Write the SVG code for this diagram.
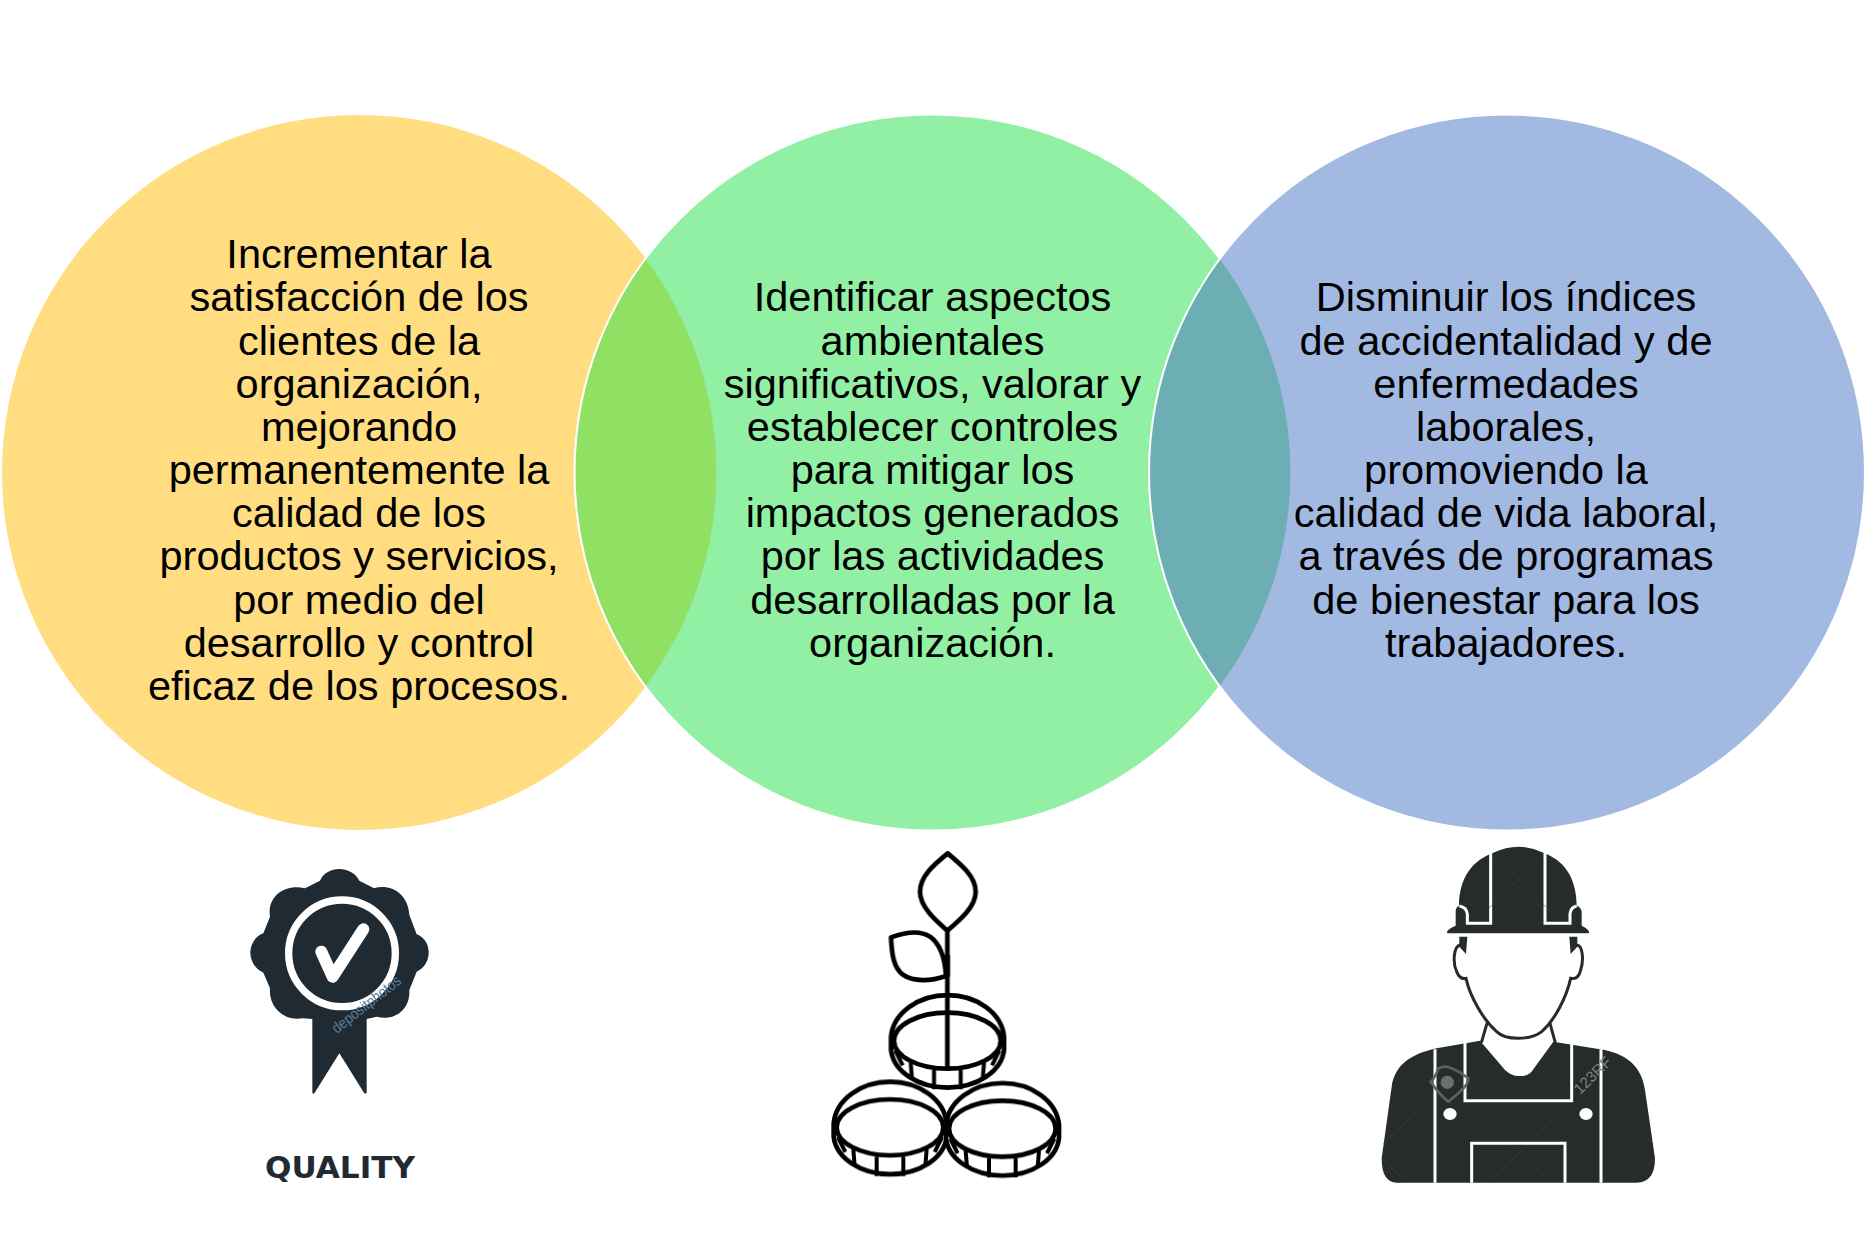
<svg xmlns="http://www.w3.org/2000/svg" width="1866" height="1255" viewBox="0 0 1866 1255">
<defs>
<style>
.t{font-family:"Liberation Sans",Arial,sans-serif;font-size:41.5px;fill:#000;text-anchor:middle}
.c{stroke:#fff;stroke-width:2}
.ln{fill:none;stroke:#000;stroke-width:14;stroke-linejoin:round}
.tk{fill:none;stroke:#000;stroke-width:12}
.wl{fill:none;stroke:#fff;stroke-width:9}
.hl{fill:none;stroke:#262b2c;stroke-width:9;stroke-linecap:round}
.x{fill:none;stroke:#3f4646;stroke-width:1.5}
</style>
<filter id="soft" x="-5%" y="-5%" width="110%" height="110%"><feGaussianBlur stdDeviation="1.7"/></filter>
<g id="coin">
<path d="M243 590 A170 135 0 0 1 582 590 V630 A170 122 0 0 1 243 630 Z" fill="#fff" stroke="#000" stroke-width="14" stroke-linejoin="round"/>
<ellipse cx="412" cy="602" rx="160" ry="84" class="ln"/>
<path class="tk" d="M256 632 L278 676 M302 668 L306 718 M372 690 V748 M452 690 V748 M522 668 L518 718 M568 632 L546 676"/>
</g>
</defs>
<rect width="1866" height="1255" fill="#fff"/>
<g id="circle-quality">
<circle cx="359.500" cy="472.500" r="357.500" fill="#ffdd80"/>
</g>
<g id="circle-environment">
<circle cx="932.500" cy="472.500" r="358" fill="#92f0a4"/>
<path d="M645.750 259 A358 358 0 0 1 645.750 686 A358 358 0 0 1 645.750 259 Z" fill="#90e064"/>
<circle class="c" cx="932.500" cy="472.500" r="358" fill="none"/>
</g>
<g id="circle-safety">
<circle cx="1507" cy="472.500" r="358" fill="#a2b9e2"/>
<path d="M1219.750 259 A358 358 0 0 1 1219.750 686 A358 358 0 0 1 1219.750 259 Z" fill="#6caeb4"/>
<circle class="c" cx="1507" cy="472.500" r="358" fill="none"/>
</g>
<g id="text-quality">
<text class="t" x="359" y="268">Incrementar la</text>
<text class="t" x="359" y="311">satisfacción de los</text>
<text class="t" x="359" y="354.500">clientes de la</text>
<text class="t" x="359" y="397.500">organización,</text>
<text class="t" x="359" y="441">mejorando</text>
<text class="t" x="359" y="484">permanentemente la</text>
<text class="t" x="359" y="527">calidad de los</text>
<text class="t" x="359" y="570">productos y servicios,</text>
<text class="t" x="359" y="613.500">por medio del</text>
<text class="t" x="359" y="656.500">desarrollo y control</text>
<text class="t" x="359" y="700">eficaz de los procesos.</text>
</g>
<g id="text-environment">
<text class="t" x="932.500" y="311">Identificar aspectos</text>
<text class="t" x="932.500" y="354.500">ambientales</text>
<text class="t" x="932.500" y="397.500">significativos, valorar y</text>
<text class="t" x="932.500" y="441">establecer controles</text>
<text class="t" x="932.500" y="484">para mitigar los</text>
<text class="t" x="932.500" y="527">impactos generados</text>
<text class="t" x="932.500" y="570">por las actividades</text>
<text class="t" x="932.500" y="613.500">desarrolladas por la</text>
<text class="t" x="932.500" y="656.500">organización.</text>
</g>
<g id="text-safety">
<text class="t" x="1506" y="311">Disminuir los índices</text>
<text class="t" x="1506" y="354.500">de accidentalidad y de</text>
<text class="t" x="1506" y="397.500">enfermedades</text>
<text class="t" x="1506" y="441">laborales,</text>
<text class="t" x="1506" y="484">promoviendo la</text>
<text class="t" x="1506" y="527">calidad de vida laboral,</text>
<text class="t" x="1506" y="570">a través de programas</text>
<text class="t" x="1506" y="613.500">de bienestar para los</text>
<text class="t" x="1506" y="656.500">trabajadores.</text>
</g>
<g id="icon-quality" transform="translate(220 840) scale(.33333)">
<path fill="#1f2a33" d="M300 122 C320 75 395 75 418 122 L462 145 C510 130 565 160 568 225 L590 283 C638 300 638 375 590 395 L568 450 C572 510 520 545 470 530 L440 537 V757 Q438 765 432 758 L358 640 L284 758 Q278 765 277 757 V537 L248 535 C190 545 145 500 150 445 L130 398 C78 375 78 300 130 280 L150 230 C140 165 200 130 255 145 Z"/>
<circle cx="366" cy="340" r="160" fill="none" stroke="#fff" stroke-width="22"/>
<path d="M304 335 L338 410 L430 268" fill="none" stroke="#fff" stroke-width="36" stroke-linecap="round" stroke-linejoin="round"/>
<text transform="translate(350 582) rotate(-38)" font-family="'Liberation Sans',Arial,sans-serif" font-size="46" fill="#5a7f9e" textLength="250" lengthAdjust="spacingAndGlyphs">depositphotos</text>
<text x="135" y="1013" font-family="'DejaVu Sans',Verdana,sans-serif" font-weight="700" font-size="89" fill="#1f2a33" textLength="450" lengthAdjust="spacingAndGlyphs">QUALITY</text>
</g>
<g id="icon-plant" transform="translate(810 840) scale(.33333)" filter="url(#soft)">
<use href="#coin" transform="translate(-172 260)"/>
<use href="#coin" transform="translate(165 264)"/>
<use href="#coin"/>
<path class="ln" d="M413 40 C370 75 330 110 330 155 C330 200 375 240 412 272 C450 240 497 200 497 155 C497 110 455 75 413 40 Z"/>
<path class="ln" d="M243 292 C290 275 330 270 360 290 C395 315 405 360 408 408 C360 425 310 425 280 405 C250 385 245 340 243 292 Z"/>
<path class="ln" d="M412 272 V685"/>
<path d="M398 345 H420 V410 H402 Z" fill="#000"/>
</g>
<g id="icon-worker" transform="translate(1360 830) scale(.33333)">
<path fill="#262b2c" d="M262 310 H686 Q692 300 665 287 V245 Q662 230 650 228 C650 140 610 90 550 68 Q475 32 400 68 C340 90 297 140 297 228 Q287 232 287 245 V287 Q256 300 262 310 Z"/>
<path class="wl" d="M392 68 V280 H322 V252 Q320 232 298 228 M555 68 V280 H630 V252 Q632 232 650 228"/>
<path fill="#262b2c" d="M298 320 H322 L318 372 L298 350 Z M628 320 H652 V350 L632 372 Z"/>
<path class="hl" d="M300 345 C280 350 278 400 290 425 Q300 450 318 445 C330 500 370 570 410 605 Q430 625 475 625 Q520 625 545 605 C585 570 620 500 632 445 Q655 450 662 420 C672 390 668 345 650 345"/>
<path class="hl" d="M381 580 L365 635 M570 580 L585 635"/>
<path fill="#262b2c" d="M65 985 L95 770 C105 700 160 670 230 655 L360 632 L435 720 Q455 738 475 738 H490 Q510 735 520 718 L580 635 L720 658 C800 670 845 710 855 780 L885 985 Q885 1058 830 1058 H110 Q65 1058 65 985 Z"/>
<path class="x" d="M400 75 L585 258 M550 75 L350 270 M350 845 L570 1058 M595 855 L385 1058 M165 850 L70 940 M790 850 L880 940 M65 985 L140 1058 M885 985 L810 1058"/>
<path class="wl" d="M225 658 V1058 M723 658 V1058 M315 638 V812 H635 V638 M335 1058 V940 H615 V1058"/>
<ellipse cx="270" cy="852" rx="20" ry="18" fill="#fff"/>
<ellipse cx="678" cy="852" rx="20" ry="18" fill="#fff"/>
<path fill="none" stroke="#5c6262" stroke-width="8" stroke-linejoin="round" d="M212 755 Q225 745 235 715 Q255 705 275 715 Q300 725 325 745 Q325 765 300 785 L265 815 Q235 790 212 755 Z"/>
<circle cx="262" cy="757" r="20" fill="#6a7070"/>
<text transform="translate(660 796) rotate(-45)" font-family="'Liberation Sans',Arial,sans-serif" font-size="46" fill="#7a8080">123RF</text>
</g>
</svg>
